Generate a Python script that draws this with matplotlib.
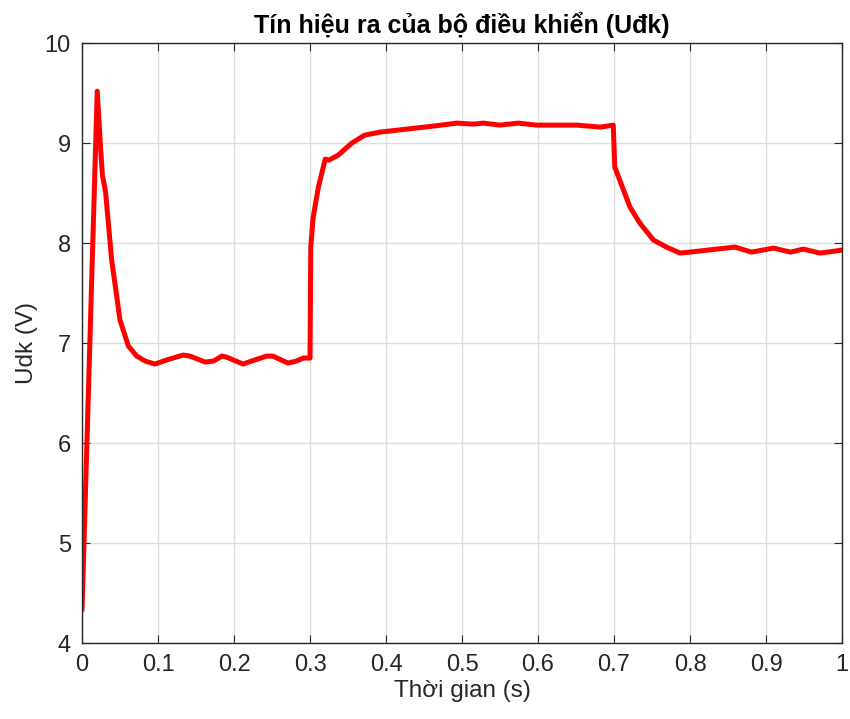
import matplotlib
matplotlib.use("Agg")
import matplotlib.pyplot as plt

plt.rcParams['font.family'] = ['Liberation Sans', 'DejaVu Sans']

# Signal (time in s, Udk in V)
t = [0.000, 0.020, 0.0246, 0.0268, 0.031, 0.039, 0.050, 0.061, 0.072, 0.083,
     0.096, 0.111, 0.133, 0.142, 0.162, 0.173, 0.184, 0.190, 0.212, 0.223,
     0.243, 0.251, 0.271, 0.282, 0.291, 0.300, 0.301, 0.304, 0.311, 0.320,
     0.325, 0.337, 0.355, 0.372, 0.392, 0.427, 0.462, 0.493, 0.515, 0.528,
     0.550, 0.574, 0.598, 0.625, 0.651, 0.682, 0.699, 0.701, 0.721, 0.734,
     0.752, 0.769, 0.787, 0.800, 0.859, 0.881, 0.910, 0.932, 0.949, 0.971,
     1.000]
udk = [4.33, 9.52, 8.93, 8.68, 8.51, 7.83, 7.23, 6.97, 6.87, 6.82,
       6.79, 6.83, 6.88, 6.87, 6.81, 6.82, 6.87, 6.86, 6.79, 6.82,
       6.87, 6.87, 6.80, 6.82, 6.85, 6.85, 7.96, 8.25, 8.56, 8.84,
       8.83, 8.88, 9.00, 9.08, 9.11, 9.14, 9.17, 9.20, 9.19, 9.20,
       9.18, 9.20, 9.18, 9.18, 9.18, 9.16, 9.18, 8.76, 8.36, 8.20,
       8.03, 7.96, 7.90, 7.91, 7.96, 7.91, 7.95, 7.91, 7.94, 7.90,
       7.93]

xticks = [0, 0.1, 0.2, 0.3, 0.4, 0.5, 0.6, 0.7, 0.8, 0.9, 1]
xticklabels = ['0', '0.1', '0.2', '0.3', '0.4', '0.5', '0.6', '0.7', '0.8', '0.9', '1']
yticks = [4, 5, 6, 7, 8, 9, 10]

fig = plt.figure(figsize=(8.5, 7.19), dpi=100)
ax = fig.add_axes([0.0965, 0.1057, 0.8941, 0.8343])

ax.plot(t, udk, color='#ff0000', linewidth=3.6,
        solid_joinstyle='round', solid_capstyle='round')

ax.set_xlim(0, 1)
ax.set_ylim(4, 10)
ax.set_xticks(xticks)
ax.set_xticklabels(xticklabels)
ax.set_yticks(yticks)
ax.grid(True, color='#dcdcdc', linewidth=1.0)
ax.set_axisbelow(True)
ax.tick_params(direction='in', top=True, right=True, labelsize=17,
               length=6, width=0.8, colors='#262626', pad=8)
for s in ax.spines.values():
    s.set_color('#262626')
    s.set_linewidth(1.0)

ax.set_title('Tín hiệu ra của bộ điều khiển (Uđk)', fontsize=18,
             fontweight='bold', pad=7)
ax.set_xlabel('Thời gian (s)', fontsize=17.5, color='#262626', labelpad=3)
ax.set_ylabel('Udk (V)', fontsize=17.5, color='#262626', labelpad=5)

fig.savefig('out.png', dpi=100)
